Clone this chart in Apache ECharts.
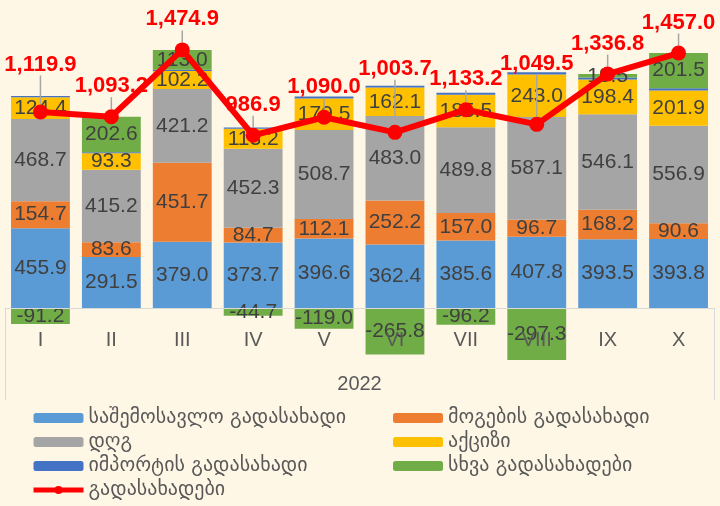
<!DOCTYPE html>
<html>
<head>
<meta charset="utf-8">
<script src="https://cdn.jsdelivr.net/npm/echarts@6/dist/echarts.min.js"></script>
<style>
  html, body { margin: 0; padding: 0; background: #FFF7E6; }
  #chart { width: 720px; height: 506px; }
</style>
</head>
<body>
<div id="chart"></div>
<script>
// months of 2022
const months = ['I', 'II', 'III', 'IV', 'V', 'VI', 'VII', 'VIII', 'IX', 'X'];
const yearLabel = ['2022'];

// tax revenues, mln GEL
const incomeTax = [455.9, 291.5, 379.0, 373.7, 396.6, 362.4, 385.6, 407.8, 393.5, 393.8];
const profitTax = [154.7, 83.6, 451.7, 84.7, 112.1, 252.2, 157.0, 96.7, 168.2, 90.6];
const vat = [468.7, 415.2, 421.2, 452.3, 508.7, 483.0, 489.8, 587.1, 546.1, 556.9];
const excise = [124.4, 93.3, 102.2, 113.2, 179.5, 162.1, 185.5, 243.0, 198.4, 201.9];
const importTax = [7.4, 7.0, 7.8, 7.7, 12.1, 9.8, 11.5, 12.2, 11.1, 12.3];
const otherTaxes = [-91.2, 202.6, 113.0, -44.7, -119.0, -265.8, -96.2, -297.3, 19.5, 201.5];
const totalTaxes = [1119.9, 1093.2, 1474.9, 986.9, 1090.0, 1003.7, 1133.2, 1049.5, 1336.8, 1457.0];

// labels that were pulled up by hand (data index -> extra px)
const liftedLabels = { 0: 17, 5: 33, 7: 30 };

const chart = echarts.init(document.getElementById('chart'));

const barLabel = {
    show: true,
    position: 'inside',
    color: '#404040',
    fontSize: 21,
    fontFamily: 'Liberation Sans',
    formatter: p => p.value.toFixed(1)
};

function barSeries(name, data, color, withLabel) {
    return {
        name: name,
        type: 'bar',
        stack: 'taxes',
        data: data,
        barCategoryGap: '17%',
        itemStyle: { color: color },
        label: withLabel ? barLabel : { show: false }
    };
}

const legendText = {
    fontSize: 20,
    fontFamily: 'DejaVu Sans',
    color: '#595959'
};

function legendColumn(left, names) {
    return {
        orient: 'vertical',
        left: left,
        top: 408,
        padding: 0,
        itemWidth: 50,
        itemHeight: 10,
        itemGap: 4,
        textStyle: legendText,
        data: names
    };
}

const option = {
    backgroundColor: '#FFF7E6',
    animation: false,
    grid: { left: 5, right: 6, top: 28, bottom: 93 },
    legend: [
        legendColumn(31, [
            'საშემოსავლო გადასახადი', 'დღგ', 'იმპორტის გადასახადი',
            { name: 'გადასახადები', lineStyle: { width: 5 } }
        ]),
        legendColumn(393, ['მოგების გადასახადი', 'აქციზი', 'სხვა გადასახადები'])
    ],
    xAxis: [
        {
            type: 'category',
            data: months,
            position: 'bottom',
            offset: -105,
            z: 5,
            axisLine: { onZero: false, lineStyle: { color: '#D9D9D9', width: 1 } },
            axisTick: { show: false },
            axisLabel: {
                margin: 22,
                color: '#595959',
                fontSize: 20,
                fontFamily: 'Liberation Sans'
            }
        },
        {
            type: 'category',
            data: yearLabel,
            position: 'bottom',
            offset: -13,
            axisLine: { show: false, onZero: false },
            axisTick: {
                show: true,
                inside: true,
                length: 92,
                lineStyle: { color: '#D9D9D9' }
            },
            axisLabel: {
                inside: true,
                margin: 6,
                color: '#595959',
                fontSize: 20,
                fontFamily: 'Liberation Sans'
            }
        }
    ],
    yAxis: {
        type: 'value',
        min: -600,
        max: 1600,
        show: false,
        splitLine: { show: false }
    },
    series: [
        barSeries('საშემოსავლო გადასახადი', incomeTax, '#5B9BD5', true),
        barSeries('მოგების გადასახადი', profitTax, '#ED7D31', true),
        barSeries('დღგ', vat, '#A5A5A5', true),
        barSeries('აქციზი', excise, '#FFC000', true),
        barSeries('იმპორტის გადასახადი', importTax, '#4472C4', false),
        barSeries('სხვა გადასახადები', otherTaxes, '#70AD47', true),
        {
            name: 'გადასახადები',
            type: 'line',
            data: totalTaxes,
            z: 4,
            symbol: 'circle',
            symbolSize: 15,
            itemStyle: { color: '#FF0000' },
            lineStyle: { color: '#FF0000', width: 6 },
            label: {
                show: true,
                position: 'top',
                distance: 12,
                color: '#FF0000',
                fontSize: 22,
                fontWeight: 'bold',
                fontFamily: 'Liberation Sans',
                formatter: function (p) {
                    return p.value.toLocaleString('en-US', { minimumFractionDigits: 1, maximumFractionDigits: 1 });
                }
            },
            labelLine: { show: true, lineStyle: { color: '#A6A6A6', width: 1.5 } },
            labelLayout: function (params) {
                const lift = liftedLabels[params.dataIndex];
                return lift ? { dy: -lift } : {};
            }
        }
    ]
};

chart.setOption(option);
</script>
</body>
</html>
